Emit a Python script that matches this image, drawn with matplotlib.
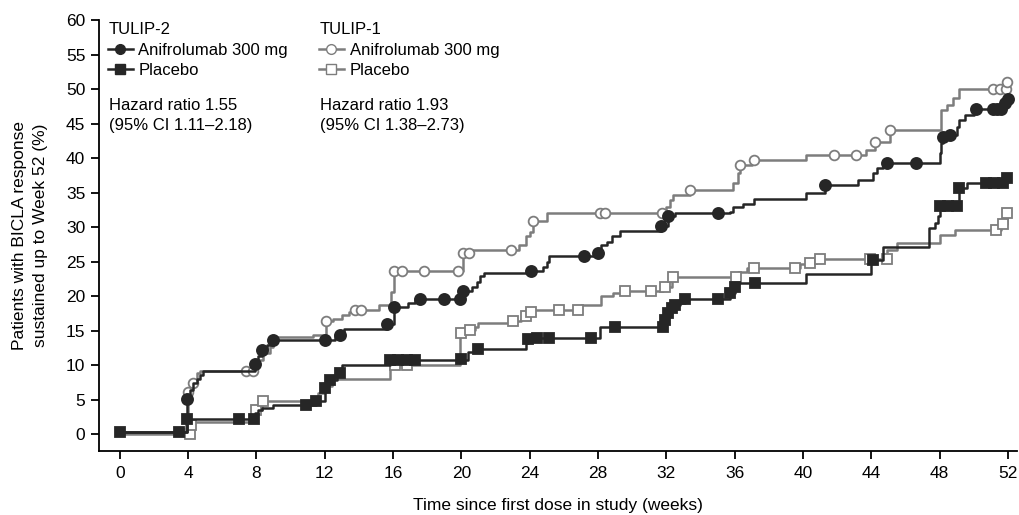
import matplotlib

matplotlib.use("Agg")
import matplotlib.pyplot as plt
from matplotlib.lines import Line2D

plt.rcParams["font.family"] = ["Liberation Sans", "DejaVu Sans"]

# TULIP-2, anifrolumab 300 mg (step times in weeks, cumulative %)
t2_ani_t = [0, 3.94, 4.1, 4.3, 4.5, 4.7, 4.9, 7.9, 8.1, 8.3, 8.6, 9.0, 12.6, 13.1,
            15.65, 16.04, 16.9, 17.3, 20.1, 20.6, 20.9, 21.1, 21.3, 24.1, 24.8, 25.0,
            25.1, 28.0, 28.2, 28.5, 28.8, 29.3, 31.7, 32.1, 32.5, 35.7, 35.9, 36.5,
            37.1, 40.2, 41.3, 43.2, 44.1, 44.3, 44.7, 48.0, 48.1, 48.2, 48.6, 49.0,
            49.1, 49.5, 50.0, 51.8, 52.0]
t2_ani_v = [0.3, 5.1, 6.4, 7.4, 8.1, 8.6, 9.2, 10.2, 11.3, 12.3, 13.0, 13.7, 14.4, 15.3,
            16.0, 18.4, 19.1, 19.6, 20.8, 21.4, 22.1, 23.0, 23.4, 23.7, 24.3, 25.0,
            25.9, 26.3, 27.5, 27.9, 28.7, 29.5, 30.2, 31.6, 32.1, 32.3, 33.0, 33.4,
            34.1, 35.0, 36.2, 36.9, 37.9, 38.6, 39.4, 40.8, 42.3, 43.1, 43.4, 44.6,
            45.6, 46.3, 47.1, 48.0, 48.6]
t2_ani_cens_t = [3.94, 7.9, 8.3, 9.0, 12.0, 12.9, 15.65, 16.04, 17.6, 19.0, 19.9, 20.1,
                 24.1, 27.2, 28.0, 31.7, 32.1, 35.0, 41.3, 44.9, 46.6, 48.2, 48.6, 50.1,
                 51.1, 51.35, 51.6, 51.8, 52.0]
t2_ani_cens_v = [5.1, 10.2, 12.3, 13.7, 13.7, 14.4, 16.0, 18.4, 19.6, 19.6, 19.6, 20.8,
                 23.7, 25.9, 26.3, 30.2, 31.6, 32.1, 36.2, 39.4, 39.4, 43.1, 43.4, 47.1,
                 47.1, 47.1, 47.1, 48.0, 48.6]

# TULIP-2, placebo
t2_pbo_t = [0, 3.94, 7.9, 8.1, 8.3, 9.0, 11.5, 12.0, 12.2, 12.7, 13.0, 15.8, 20.4, 20.9,
            23.8, 23.9, 24.0, 28.1, 31.9, 32.1, 32.3, 32.5, 32.8, 33.1, 35.7, 36.0, 36.2,
            40.2, 44.0, 44.7, 47.4, 47.7, 47.9, 48.0, 49.1, 49.6, 51.95]
t2_pbo_v = [0.3, 2.25, 3.1, 3.55, 3.8, 4.3, 4.9, 6.7, 7.9, 8.9, 10.1, 10.8, 12.0, 12.4,
            13.3, 13.9, 14.0, 15.6, 16.6, 17.6, 18.3, 18.8, 19.0, 19.7, 20.5, 21.4, 21.9,
            23.3, 25.3, 27.2, 29.9, 30.6, 31.6, 33.1, 35.7, 36.4, 37.2]
t2_pbo_cens_t = [0, 3.47, 3.94, 7.0, 7.85, 10.9, 11.5, 12.0, 12.3, 12.9, 15.8, 16.3, 16.8,
                 17.3, 20.0, 21.0, 23.9, 24.4, 25.1, 27.6, 29.0, 31.8, 31.9, 32.1, 32.3,
                 32.5, 33.1, 35.0, 35.7, 36.0, 37.2, 44.1, 48.0, 48.5, 49.0, 49.1, 50.7,
                 51.2, 51.7, 51.95]
t2_pbo_cens_v = [0.3, 0.3, 2.25, 2.25, 2.25, 4.3, 4.9, 6.7, 7.9, 8.9, 10.8, 10.8, 10.8,
                 10.8, 10.9, 12.4, 13.9, 14.0, 14.0, 14.0, 15.6, 15.6, 16.6, 17.6, 18.3,
                 18.8, 19.7, 19.7, 20.5, 21.4, 21.9, 25.3, 33.1, 33.1, 33.1, 35.7, 36.4,
                 36.4, 36.4, 37.2]

# TULIP-1, anifrolumab 300 mg
t1_ani_t = [0, 4.0, 4.2, 4.5, 4.7, 8.0, 8.4, 8.8, 9.0, 11.3, 12.06, 12.5, 13.0, 13.4,
            13.8, 15.2, 15.9, 16.06, 20.1, 20.5, 23.4, 23.8, 24.0, 24.2, 25.0, 32.0,
            32.2, 32.4, 33.4, 35.9, 36.2, 36.3, 37.0, 40.2, 43.7, 44.2, 45.1, 48.1,
            48.4, 48.8, 49.1, 51.95]
t1_ani_v = [0.3, 6.2, 7.4, 8.9, 9.2, 10.8, 11.8, 12.7, 14.1, 14.4, 16.4, 16.8, 17.3, 17.7,
            18.1, 18.8, 20.7, 23.7, 26.3, 26.7, 27.5, 28.8, 29.4, 31.0, 32.1, 33.0,
            34.0, 34.7, 35.4, 36.4, 37.9, 39.0, 39.8, 40.5, 41.2, 42.4, 44.1, 47.0,
            47.8, 48.7, 50.0, 51.1]
t1_ani_cens_t = [4.0, 4.3, 7.4, 7.8, 12.06, 13.8, 14.1, 16.06, 16.5, 17.8, 19.8, 20.1,
                 20.45, 22.9, 24.2, 28.1, 28.4, 31.75, 33.4, 36.3, 37.1, 41.8, 43.1,
                 44.2, 45.1, 51.1, 51.5, 51.9, 51.95]
t1_ani_cens_v = [6.2, 7.4, 9.2, 9.2, 16.4, 18.1, 18.1, 23.7, 23.7, 23.7, 23.7, 26.3,
                 26.3, 26.7, 31.0, 32.1, 32.1, 32.1, 35.4, 39.0, 39.8, 40.5, 40.5,
                 42.4, 44.1, 50.0, 50.0, 50.0, 51.1]

# TULIP-1, placebo
t1_pbo_t = [0, 4.1, 4.3, 7.9, 8.0, 8.3, 11.6, 12.0, 12.4, 15.8, 19.9, 20.4, 20.8, 21.0,
            22.9, 23.5, 23.8, 24.0, 24.2, 27.0, 28.2, 28.9, 29.4, 31.8, 32.3, 36.2,
            36.7, 39.8, 40.3, 40.8, 44.9, 45.5, 48.0, 48.9, 51.6, 51.95]
t1_pbo_v = [0.0, 1.4, 1.85, 3.0, 3.55, 4.9, 6.0, 7.0, 8.0, 10.1, 14.7, 15.1, 15.6, 16.1,
            16.4, 16.8, 17.1, 17.8, 18.0, 18.8, 20.0, 20.5, 20.8, 21.3, 22.8, 23.6,
            24.1, 24.7, 24.9, 25.4, 26.8, 27.7, 28.9, 29.6, 30.5, 32.1]
t1_pbo_cens_t = [4.1, 4.15, 8.0, 8.4, 16.1, 16.8, 20.0, 20.5, 23.0, 23.8, 24.05, 25.7,
                 26.8, 29.6, 31.1, 31.9, 32.4, 36.1, 37.1, 39.5, 40.4, 41.0, 43.9, 44.9,
                 51.3, 51.7, 51.95]
t1_pbo_cens_v = [0.0, 1.4, 3.55, 4.9, 10.1, 10.1, 14.7, 15.1, 16.4, 17.1, 17.8, 18.0,
                 18.0, 20.8, 20.8, 21.3, 22.8, 22.8, 24.1, 24.1, 24.9, 25.4, 25.4, 25.4,
                 29.6, 30.5, 32.1]

x_ticks = list(range(0, 53, 4))
y_ticks = list(range(0, 61, 5))

BLACK = "#262626"
GREY = "#7d7d7d"
FS = 12.5
LEG_FS = 12

fig = plt.figure(figsize=(10.19, 5.15), dpi=100)
ax = fig.add_axes([0.0974, 0.1243, 0.9006, 0.836])

series = [
    (t1_ani_t, t1_ani_v, t1_ani_cens_t, t1_ani_cens_v, GREY, "o", "white", 7),
    (t1_pbo_t, t1_pbo_v, t1_pbo_cens_t, t1_pbo_cens_v, GREY, "s", "white", 7),
    (t2_pbo_t, t2_pbo_v, t2_pbo_cens_t, t2_pbo_cens_v, BLACK, "s", BLACK, 7.5),
    (t2_ani_t, t2_ani_v, t2_ani_cens_t, t2_ani_cens_v, BLACK, "o", BLACK, 8),
]
for t, v, ct, cv, color, marker, face, ms in series:
    ax.step(t, v, where="post", color=color, lw=1.8)
    ax.plot(ct, cv, ls="none", marker=marker, ms=ms, mfc=face, mec=color, mew=1.3)

ax.set_xlim(-1.2, 52.52)
ax.set_ylim(-2.4, 60)
ax.set_xticks(x_ticks)
ax.set_yticks(y_ticks)
for side in ("top", "right"):
    ax.spines[side].set_visible(False)
for side in ("left", "bottom"):
    ax.spines[side].set_linewidth(1.3)
ax.tick_params(labelsize=FS, length=6, width=1.3)
ax.tick_params(axis="x", pad=5)
ax.tick_params(axis="y", pad=4)

ax.set_xlabel("Time since first dose in study (weeks)", fontsize=FS, labelpad=12)
ax.set_ylabel("Patients with BICLA response\nsustained up to Week 52 (%)",
              fontsize=FS, labelpad=13, linespacing=1.5)


def handles(color, face):
    return [
        Line2D([], [], color=color, lw=1.8, marker="o", ms=7, mfc=face, mec=color),
        Line2D([], [], color=color, lw=1.8, marker="s", ms=7, mfc=face, mec=color),
    ]


labels = ["Anifrolumab 300 mg", "Placebo"]
leg_opts = dict(loc="center left", frameon=False, fontsize=LEG_FS,
                handlelength=1.5, handletextpad=0.35,
                labelspacing=0.27, borderpad=0, borderaxespad=0)

blocks = [
    ("TULIP-2", handles(BLACK, BLACK), "Hazard ratio 1.55", "(95% CI 1.11\u20132.18)", 0.1055),
    ("TULIP-1", handles(GREY, "white"), "Hazard ratio 1.93", "(95% CI 1.38\u20132.73)", 0.313),
]
for title, hdl, hr, ci, x0 in blocks:
    fig.text(x0 + 0.001, 1 - 34.3 / 515, title, fontsize=LEG_FS, va="baseline")
    fig.legend(hdl, labels, bbox_to_anchor=(x0, 1 - 60.5 / 515),
               bbox_transform=fig.transFigure, **leg_opts)
    fig.text(x0 + 0.001, 1 - 110.5 / 515, hr, fontsize=LEG_FS, va="baseline")
    fig.text(x0 + 0.001, 1 - 129.5 / 515, ci, fontsize=LEG_FS, va="baseline")

fig.savefig("out.png", dpi=100)
